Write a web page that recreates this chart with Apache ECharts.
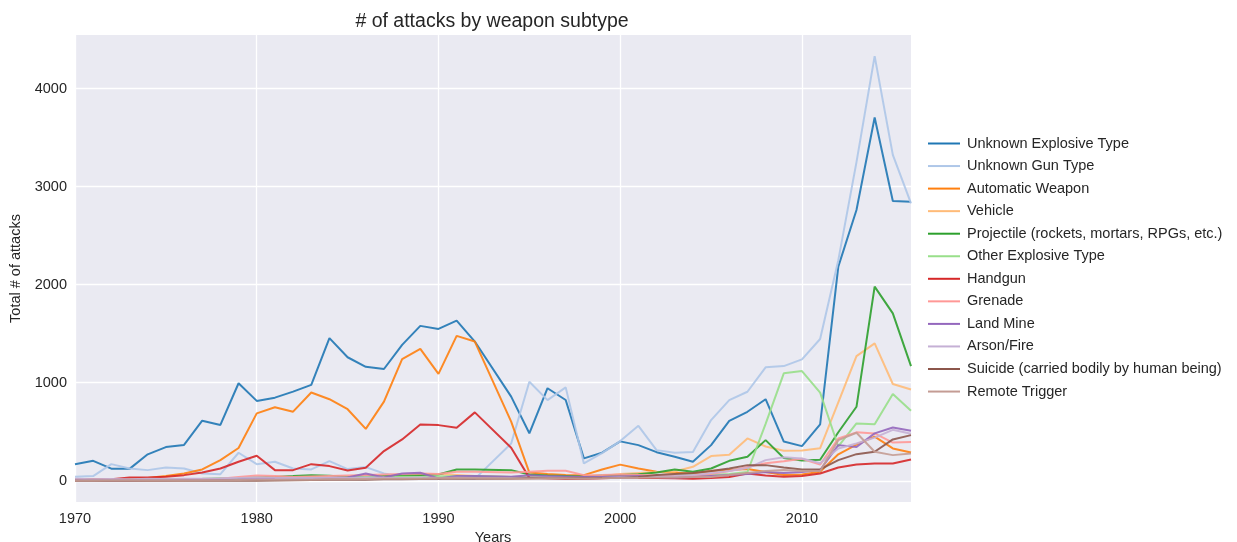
<!DOCTYPE html>
<html>
<head>
<meta charset="utf-8">
<script src="https://cdn.jsdelivr.net/npm/echarts@6/dist/echarts.min.js"></script>
<style>
html,body{margin:0;padding:0;background:#fff;}
#chart{width:1237px;height:542px;}
</style>
</head>
<body>
<div id="chart"></div>
<script>
// Years present in the data (1993 is absent)
const years = [1970,1971,1972,1973,1974,1975,1976,1977,1978,1979,1980,1981,1982,1983,1984,1985,1986,1987,1988,1989,1990,1991,1992,
               1994,1995,1996,1997,1998,1999,2000,2001,2002,2003,2004,2005,2006,2007,2008,2009,2010,2011,2012,2013,2014,2015,2016];

const unknownExplosive = [170,204,124,122,270,344,366,613,570,995,815,848,909,978,1455,1260,1163,1140,1386,1580,1549,1634,1420,
                          858,485,944,824,229,287,402,364,292,245,194,364,612,704,832,400,354,575,2184,2762,3705,2854,2845];
const unknownGun = [41,48,170,126,109,136,126,75,68,286,170,194,126,116,201,120,140,75,41,35,30,25,20,
                    380,1010,823,953,177,282,405,561,313,286,293,619,823,908,1157,1170,1238,1446,2250,3250,4330,3323,2830];
const automaticWeapon = [14,10,10,20,30,50,75,116,211,335,688,750,705,900,832,730,530,808,1240,1345,1090,1478,1420,
                         603,84,70,60,58,116,165,126,92,82,75,100,110,120,90,60,65,92,270,370,450,330,288];
const vehicle = [2,1,3,2,4,5,6,8,10,12,20,25,30,35,40,45,50,45,55,60,70,60,50,
                 40,45,50,45,40,50,70,80,90,95,143,252,265,432,350,306,310,333,800,1272,1402,987,932];
const projectile = [5,5,8,10,10,12,15,15,20,25,34,40,48,58,52,40,45,50,55,60,65,116,116,
                    109,65,55,50,45,55,60,68,85,116,92,126,204,245,415,232,206,215,495,755,1980,1708,1170];
const otherExplosive = [10,8,12,10,15,15,18,20,25,30,35,30,32,35,40,35,38,40,42,40,45,50,48,
                        40,35,38,35,30,35,40,45,50,55,60,60,70,90,580,1096,1119,900,350,585,577,885,714];
const handgun = [14,14,17,34,34,41,58,85,126,194,255,109,109,170,150,105,133,303,422,575,568,541,698,
                 337,30,25,22,20,25,30,30,28,25,22,28,40,75,55,41,48,75,136,167,177,177,218];
const grenade = [5,6,8,10,10,12,15,18,20,40,55,50,40,45,50,55,60,65,70,75,70,92,92,
                 85,92,102,102,58,60,65,60,55,50,55,70,100,140,180,200,225,165,432,494,483,390,395];
const landMine = [2,3,3,4,5,6,8,10,12,15,20,25,20,25,30,34,75,34,75,82,24,48,48,
                  41,58,50,45,40,38,45,50,40,35,40,50,60,70,90,80,90,110,364,345,484,543,510];
const arsonFire = [20,15,18,15,20,18,20,22,25,30,35,30,28,30,32,30,35,32,30,35,30,32,30,
                   28,30,32,30,28,30,35,40,45,50,60,80,100,130,211,240,228,180,330,380,440,520,480];
const suicide = [0,0,0,0,0,0,0,0,0,0,0,2,5,8,10,10,12,15,15,18,20,20,22,
                 22,25,25,28,25,28,30,40,60,70,80,100,126,160,160,136,116,116,211,272,296,422,466];
const remoteTrigger = [1,1,2,2,3,3,4,5,6,8,10,10,12,12,15,15,18,20,20,22,25,25,25,
                       20,22,25,25,22,25,30,30,35,35,38,40,60,80,100,110,100,100,415,490,296,262,279];

const seriesNames = ['Unknown Explosive Type','Unknown Gun Type','Automatic Weapon','Vehicle',
  'Projectile (rockets, mortars, RPGs, etc.)','Other Explosive Type','Handgun','Grenade',
  'Land Mine','Arson/Fire','Suicide (carried bodily by human being)','Remote Trigger'];
const seriesValues = [unknownExplosive,unknownGun,automaticWeapon,vehicle,projectile,otherExplosive,
  handgun,grenade,landMine,arsonFire,suicide,remoteTrigger];
const colors = ['#1f77b4','#aec7e8','#ff7f0e','#ffbb78','#2ca02c','#98df8a','#d62728','#ff9896',
  '#9467bd','#c5b0d5','#8c564b','#c49c94'];

const xTicks = [1970,1980,1990,2000,2010];
const yTicks = [0,1000,2000,3000,4000];

const FONT = '"Liberation Sans", Arial, sans-serif';
const TXT = '#262626';

const chart = echarts.init(document.getElementById('chart'), null, {renderer:'canvas'});
chart.setOption({
  backgroundColor:'#ffffff',
  animation:false,
  color: colors,
  title:{
    text:'# of attacks by weapon subtype',
    left:487, top:7, textAlign:'center',
    textStyle:{fontFamily:FONT,fontSize:19.5,fontWeight:'normal',color:TXT}
  },
  grid:{left:75, right:326, top:35, bottom:40, show:true, backgroundColor:'#eaeaf2', borderWidth:0,
        outerBoundsMode:'none', containLabel:false},
  xAxis:{
    type:'value', min:1970, max:2016,
    name:'Years', nameLocation:'middle', nameGap:26,
    nameTextStyle:{fontFamily:FONT,fontSize:14.5,color:TXT},
    axisLine:{show:false}, 
    axisTick:{show:false, customValues:xTicks},
    axisLabel:{customValues:xTicks, margin:9, fontFamily:FONT, fontSize:14.5, color:TXT, formatter:v=>String(v)},
    splitLine:{show:true, lineStyle:{color:'#ffffff', width:1.3}}
  },
  yAxis:{
    type:'value', min:-216, max:4546,
    name:'Total # of attacks', nameLocation:'middle', nameGap:49, nameRotate:90,
    nameTextStyle:{fontFamily:FONT,fontSize:14.5,color:TXT},
    axisLine:{show:false},
    axisTick:{show:false, customValues:yTicks},
    axisLabel:{customValues:yTicks, margin:8, fontFamily:FONT, fontSize:14.5, color:TXT, formatter:v=>String(v)},
    splitLine:{show:true, lineStyle:{color:'#ffffff', width:1.3}}
  },
  legend:{
    orient:'vertical', left:923, top:131,
    itemWidth:32, itemHeight:14, itemGap:7.55,
    icon:'path://M0,6L32,6L32,8L0,8Z',
    textStyle:{fontFamily:FONT,fontSize:14.5,color:TXT,padding:[0,0,0,2]},
    data:seriesNames
  },
  series: seriesNames.map((n,i)=>({
    name:n, type:'line', symbol:'none', showSymbol:false,
    lineStyle:{width:2, color:colors[i], opacity:0.9},
    itemStyle:{color:colors[i]},
    data: years.map((y,j)=>[y, seriesValues[i][j]])
  }))
});
</script>
</body>
</html>
